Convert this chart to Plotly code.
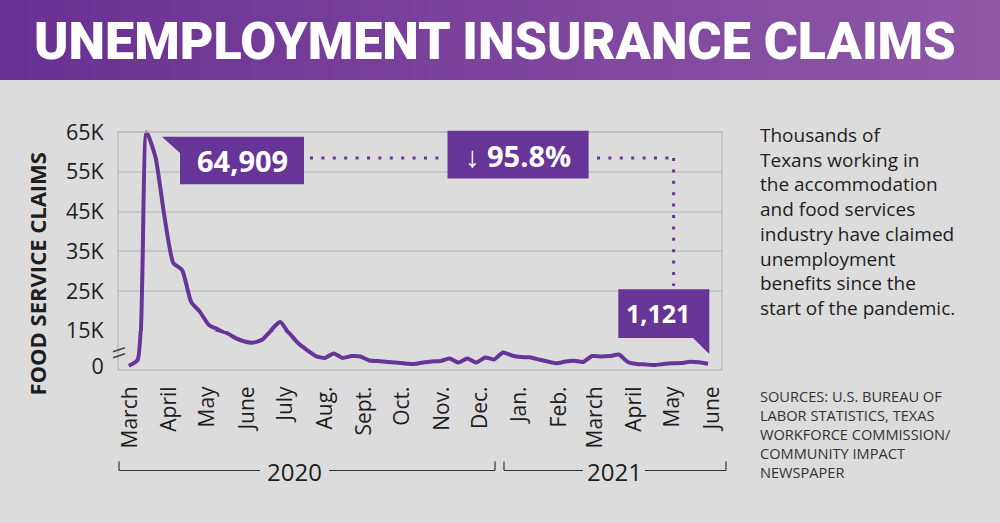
import plotly.graph_objects as go
import pandas as pd

# ---------------- data ----------------
week_dates = pd.date_range("2020-03-14", "2021-06-12", freq="7D")
claims = [
    300, 2700, 64909,
    58700, 43900, 32100, 30300,
    22300, 19800, 16500, 15400, 14150,
    12000, 10550, 10100, 11400,
    15250, 17250, 14150, 9900,
    6950, 4400, 3600, 5500, 3600,
    4400, 4200, 2500, 2300,
    1900, 1650, 1250, 1050, 1650,
    2100, 2300, 3350, 1650,
    3350, 1650, 3800, 2950,
    5900, 4650, 4000, 3850, 2950,
    2100, 1350, 2100, 2400,
    1900, 4400, 4200, 4400,
    5050, 1900, 1050, 850,
    600, 1050, 1350, 1450, 2000,
    1750, 1121,
]
month_ticks = ["2020-03-15", "2020-04-15", "2020-05-15", "2020-06-15", "2020-07-15",
               "2020-08-15", "2020-09-15", "2020-10-15", "2020-11-15", "2020-12-15",
               "2021-01-15", "2021-02-15", "2021-03-15", "2021-04-15", "2021-05-15",
               "2021-06-15"]
month_labels = ["March", "April", "May", "June", "July", "Aug.", "Sept.", "Oct.", "Nov.",
                "Dec.", "Jan.", "Feb.", "March", "April", "May", "June"]
upper_ticks = [15000, 25000, 35000, 45000, 55000, 65000]
upper_labels = ["15K", "25K", "35K", "45K", "55K", "65K"]
lower_ticks = [0]
lower_labels = ["0"]
peak_label = "64,909"
change_label = "↓ 95.8%"
last_label = "1,121"
title_text = "UNEMPLOYMENT INSURANCE CLAIMS"
blurb = ("Thousands of<br>Texans working in<br>the accommodation<br>and food services<br>"
         "industry have claimed<br>unemployment<br>benefits since the<br>start of the pandemic.")
sources = ("SOURCES: U.S. BUREAU OF<br>LABOR STATISTICS, TEXAS<br>WORKFORCE COMMISSION/<br>"
           "COMMUNITY IMPACT<br>NEWSPAPER")

# ---------------- style ----------------
W, H = 1000, 523
BG = "#dcdcdc"
PURPLE = "#673497"
GRID = "#c6c6c6"
TXT = "#1e1e1e"
FONT = "Open Sans"


def px(x):
    return x / W


def py(y):
    return 1 - y / H


fig = go.Figure()
line_style = dict(color=PURPLE, width=4, shape="spline", smoothing=0.55)
fig.add_trace(go.Scatter(x=week_dates, y=claims, mode="lines", line=line_style,
                         xaxis="x", yaxis="y", hoverinfo="skip"))
fig.add_trace(go.Scatter(x=week_dates, y=claims, mode="lines", line=line_style,
                         xaxis="x", yaxis="y2", hoverinfo="skip"))

shapes = []
# gradient title bar
n = 100
c0 = (104, 49, 146)
c1 = (143, 87, 166)
for i in range(n):
    t = i / (n - 1)
    col = "rgb(%d,%d,%d)" % tuple(round(a + (b - a) * t) for a, b in zip(c0, c1))
    shapes.append(dict(type="rect", xref="paper", yref="paper", x0=i / n, x1=(i + 1) / n + 0.002,
                       y0=py(80), y1=1, fillcolor=col, line=dict(width=0), layer="below"))

# plot frame
shapes.append(dict(type="rect", xref="paper", yref="paper", x0=px(118), x1=px(722),
                   y0=py(370), y1=py(132), line=dict(color="#bdbdbd", width=1.5)))
# axis break marks
for yy in (351.7, 357.8):
    shapes.append(dict(type="line", xref="paper", yref="paper", x0=px(113), y0=py(yy),
                       x1=px(125), y1=py(yy - 4), line=dict(color="#444444", width=1.5)))


def poly(points):
    return "M " + " L ".join("%.5f %.5f" % (px(a), py(b)) for a, b in points) + " Z"


# annotation boxes
shapes.append(dict(type="path", xref="paper", yref="paper",
                   path=poly([(162, 136.7), (304, 136.7), (304, 184.3), (180, 184.3), (180, 153)]),
                   fillcolor=PURPLE, line=dict(width=0)))
shapes.append(dict(type="rect", xref="paper", yref="paper", x0=px(447.5), x1=px(588.6),
                   y0=py(178.4), y1=py(130.8), fillcolor=PURPLE, line=dict(width=0)))
shapes.append(dict(type="path", xref="paper", yref="paper",
                   path=poly([(618.3, 289.3), (709.3, 289.3), (709.3, 354), (693, 338), (618.3, 338)]),
                   fillcolor=PURPLE, line=dict(width=0)))
# dotted connectors
dot = dict(color=PURPLE, width=3, dash="3px,8.4px")
shapes.append(dict(type="line", xref="paper", yref="paper", x0=px(310), x1=px(440),
                   y0=py(158), y1=py(158), line=dot))
shapes.append(dict(type="line", xref="paper", yref="paper", x0=px(597), x1=px(675),
                   y0=py(158), y1=py(158), line=dot))
shapes.append(dict(type="line", xref="paper", yref="paper", x0=px(673.6), x1=px(673.6),
                   y0=py(158), y1=py(286), line=dot))

# year brackets
br = dict(color="#333333", width=1.2)
for (xa, xb, ga, gb) in ((119, 495, 260, 329), (504, 726, 583, 645)):
    shapes.append(dict(type="line", xref="paper", yref="paper", x0=px(xa), x1=px(ga),
                       y0=py(470.5), y1=py(470.5), line=br))
    shapes.append(dict(type="line", xref="paper", yref="paper", x0=px(gb), x1=px(xb),
                       y0=py(470.5), y1=py(470.5), line=br))
    for xx in (xa, xb):
        shapes.append(dict(type="line", xref="paper", yref="paper", x0=px(xx), x1=px(xx),
                           y0=py(470.5), y1=py(461.5), line=br))


def label(text, x, y, size, color=TXT, weight="normal", **kw):
    d = dict(text=text, x=px(x), y=py(y), xref="paper", yref="paper", showarrow=False,
             xanchor="center", yanchor="middle",
             font=dict(family=kw.pop("family", FONT), size=size, color=color, weight=weight))
    d.update(kw)
    return d


annotations = [
    label(title_text, 495, 42, 52, color="white", weight=900, family="Roboto"),
    label("FOOD SERVICE CLAIMS", 36.5, 274, 22, weight="bold", textangle=-90),
    label(peak_label, 242, 161, 29, color="white", weight="bold"),
    label(change_label, 518, 155, 29, color="white", weight="bold"),
    label(last_label, 658, 313, 25, color="white", weight="bold"),
    label(blurb, 758, 120, 19, xanchor="left", yanchor="top", align="left"),
    label(sources, 758, 384, 14.6, color="#333333", xanchor="left", yanchor="top", align="left"),
    label("2020", 294, 471, 24),
    label("2021", 614, 471, 24),
]

# axes: piecewise (broken) y scale built from two stacked linear axes
low_top_px, low_bot_px = 331, 370
up_top_px = 128
fig.update_layout(
    width=W, height=H,
    margin=dict(l=0, r=0, t=0, b=0, pad=0),
    paper_bgcolor=BG, plot_bgcolor=BG,
    showlegend=False,
    font=dict(family=FONT, color=TXT),
    xaxis=dict(domain=[px(118), px(722)], type="date",
               range=["2020-03-05 14:00", "2021-06-23"],
               tickvals=month_ticks, ticktext=month_labels, tickangle=-90,
               tickfont=dict(size=21, color=TXT), ticks="outside", ticklen=7,
               tickcolor="rgba(0,0,0,0)", showgrid=False, zeroline=False, showline=False,
               anchor="y", automargin=False),
    yaxis=dict(domain=[py(low_bot_px), py(low_top_px)], range=[-1500, 15000],
               tickvals=lower_ticks, ticktext=lower_labels, showgrid=False, zeroline=False,
               tickfont=dict(size=21.5, color=TXT), ticks="outside", ticklen=9,
               tickcolor="rgba(0,0,0,0)", anchor="x", automargin=False),
    yaxis2=dict(domain=[py(low_top_px), py(up_top_px)], range=[14990, 66000],
                tickvals=upper_ticks, ticktext=upper_labels, showgrid=True, gridcolor=GRID,
                gridwidth=1.5, zeroline=False,
                tickfont=dict(size=21.5, color=TXT), ticks="outside", ticklen=9,
                tickcolor="rgba(0,0,0,0)", anchor="x", automargin=False),
    shapes=shapes,
    annotations=annotations,
)

fig.write_html("out.html")
